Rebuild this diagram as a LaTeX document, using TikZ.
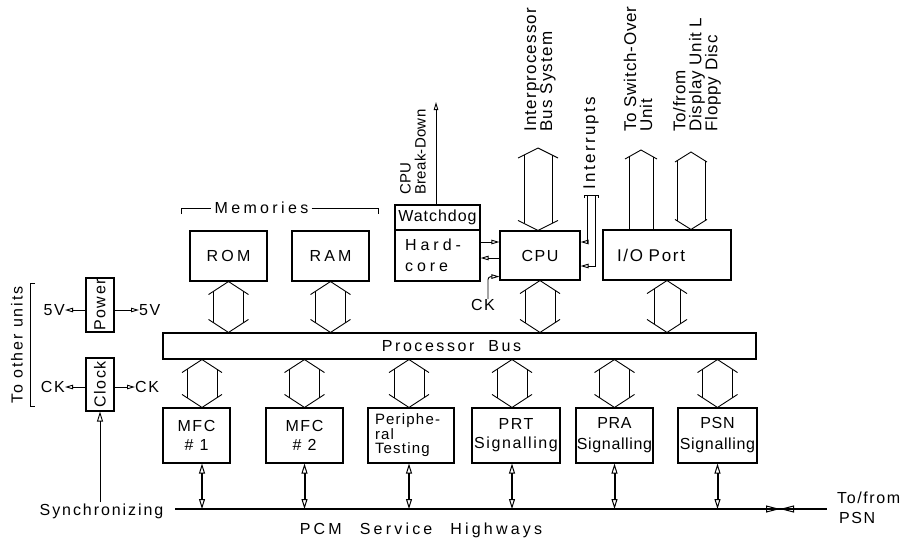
\documentclass[tikz,border=0pt]{standalone}
\usepackage{fontspec}
\setmainfont{Liberation Sans}
\usetikzlibrary{arrows.meta,calc}
\newcommand\fsz[2]{\fontsize{#1}{#2}\selectfont}
\newcommand\lsp[1]{\addfontfeatures{LetterSpace=#1}}
% double hollow arrow: top tip, bottom tip, half head width, half shaft width, head length
\newcommand\bigdbl[5]{%
  \pgfmathsetmacro\bdy{#5*#4/#3}%
  \draw[bigarr] ($#1+(-#3,#5)$) -- #1 -- ($#1+(#3,#5)$);
  \draw[bigarr] ($#2+(-#3,-#5)$) -- #2 -- ($#2+(#3,-#5)$);
  \draw[bigarr] ($#1+(-#4,\bdy)$) -- ($#2+(-#4,-\bdy)$);
  \draw[bigarr] ($#1+(#4,\bdy)$) -- ($#2+(#4,-\bdy)$);
}
% single hollow arrow pointing up: top tip, bottom point
\newcommand\bigsgl[5]{%
  \pgfmathsetmacro\bdy{#5*#4/#3}%
  \draw[bigarr] ($#1+(-#3,#5)$) -- #1 -- ($#1+(#3,#5)$);
  \draw[bigarr] ($#1+(-#4,\bdy)$) -- ($#2+(-#4,0)$);
  \draw[bigarr] ($#1+(#4,\bdy)$) -- ($#2+(#4,0)$);
}
\begin{document}
\begin{tikzpicture}[x=1pt,y=-1pt,
  box/.style={draw, line width=1.1pt, inner sep=0pt, font=\fsz{16}{19}\lsp{10}},
  lbl/.style={inner sep=1pt, font=\fsz{16}{19}\lsp{10}},
  rlbl/.style={inner sep=0pt, rotate=90, anchor=west, align=left, font=\fsz{17}{16}\lsp{5}},
  wire/.style={line width=0.9pt},
  bigarr/.style={line width=0.9pt},
  sarr/.style={wire, -{Triangle[open,length=8pt,width=4.5pt]}},
  thk/.style={line width=2pt, {Triangle[open,length=10pt,width=6pt,line width=1pt]}-{Triangle[open,length=10pt,width=6pt,line width=1pt]}},
  xhead/.style={wire, -{Triangle[open,length=14pt,width=7pt,line width=1pt]}}
]
\useasboundingbox (0,0) rectangle (916,539);

% ---------- top row ----------
\node[box, minimum width=77, minimum height=50, font=\fsz{16}{19}\lsp{20}] (rom) at (228.5,256) {ROM};
\node[box, minimum width=77, minimum height=50, font=\fsz{16}{19}\lsp{20}] (ram) at (330.5,256) {RAM};
\node[box, minimum width=85, minimum height=25, font=\fsz{16}{19}\lsp{6}] (watchdog) at (437.5,217.5) {Watchdog};
\node[box, minimum width=85, minimum height=51, text width=65, align=left, font=\fsz{16}{21}\lsp{25}] (hardcore) at (437.5,255.5) {Hard-\\core};
\node[box, minimum width=80, minimum height=49] (cpu) at (540,255.5) {CPU};
\node[box, minimum width=128, minimum height=50, text width=100, align=left, font=\fsz{17}{19}\lsp{10}] (io) at (667,255) {I/O Port};

\node[lbl, inner sep=3pt, font=\fsz{16}{19}\lsp{21}] (mem) at (261.5,208) {Memories};
\coordinate (memL) at (181,214);
\coordinate (memR) at (378,214);
\draw[wire] (memL) |- (mem.west);
\draw[wire] (mem.east) -| (memR);

% ---------- processor bus ----------
\node[box, minimum width=593, minimum height=26, font=\fsz{16}{19}\lsp{16}] (bus) at (459.5,346) {Processor\hspace{14pt}Bus\hspace*{16pt}};

% ---------- bottom row ----------
\node[box, minimum width=67, minimum height=55, align=center] (mfc1) at (196.5,435.5) {MFC\\\# 1};
\node[box, minimum width=77, minimum height=55, align=center] (mfc2) at (304.5,435.5) {MFC\\\# 2};
\node[box, minimum width=86, minimum height=55, text width=72, align=left, font=\fsz{15}{14.5}\lsp{8}] (per) at (411,435.5) {Periphe-\\ral\\Testing};
\node[box, minimum width=88, minimum height=55, align=center] (prt) at (516,435.5) {PRT\\Signalling};
\node[box, minimum width=77, minimum height=55, align=center, font=\fsz{16}{21}\lsp{4}] (pra) at (614.5,435.5) {PRA\\Signalling};
\node[box, minimum width=79, minimum height=55, align=center, font=\fsz{16}{21}\lsp{4}] (psn) at (717.5,435.5) {PSN\\Signalling};

% ---------- power / clock ----------
\node[box, minimum width=28, minimum height=54] (power) at (100,305) {\rotatebox{90}{Power}};
\node[box, minimum width=28, minimum height=53] (clock) at (100,384.5) {\rotatebox{90}{Clock}};
\node[lbl, anchor=east, inner sep=0pt] (v5l) at (65,310) {5V};
\node[lbl, anchor=west, inner sep=0pt] (v5r) at (139,310) {5V};
\node[lbl, anchor=east, inner sep=0pt] (ckl) at (65,387) {CK};
\node[lbl, anchor=west, inner sep=0pt] (ckr) at (135,387) {CK};
\draw[sarr] (v5l -| power.west) -- (v5l.east);
\draw[sarr] (v5r -| power.east) -- (v5r.west);
\draw[sarr] (ckl -| clock.west) -- (ckl.east);
\draw[sarr] (ckr -| clock.east) -- (ckr.west);
\node[lbl, rotate=90, font=\fsz{16}{19}\lsp{12}] (other) at (17,345) {To other units};
\coordinate (brT) at (35,283);
\coordinate (brB) at (35,406);
\draw[wire] (brT) -- ++(-5,0) |- (brB);
\node[lbl, font=\fsz{16}{19}\lsp{12}] (sync) at (101.5,511) {Synchronizing};
\draw[wire, -{Triangle[open,length=10pt,width=6pt]}] (sync.north -| clock.south) -- (clock.south);

% ---------- top arrows ----------
\bigdbl{(rom.south)}{(rom.south |- bus.north)}{20}{15}{13}
\bigdbl{(ram.south)}{(ram.south |- bus.north)}{20}{15}{13}
\bigdbl{(cpu.south)}{(cpu.south |- bus.north)}{20}{15}{13}
\bigdbl{(io.south)}{(io.south |- bus.north)}{20}{13}{13}

% ---------- bottom arrows ----------
\coordinate (a1) at ([xshift=5.5pt]mfc1.north);
\coordinate (a2) at (mfc2.north);
\coordinate (a3) at ([xshift=-2pt]per.north);
\coordinate (a4) at ([xshift=-4pt]prt.north);
\coordinate (a5) at (pra.north);
\coordinate (a6) at (psn.north);
\foreach \a in {a1,a2,a3,a4,a5,a6}{
  \bigdbl{(\a |- bus.south)}{(\a)}{20}{15}{13}
}

% ---------- highway ----------
\coordinate (hwL) at (175,509);
\coordinate (hwR) at (827,509);
\draw[line width=2.5pt] (hwL) -- (hwR);
\foreach \a in {a1,a2,a3,a4,a5,a6}{
  \draw[thk] (\a |- mfc1.south) -- (\a |- hwL);
}
\coordinate (x1) at (762,509);
\coordinate (xm) at (780,509);
\coordinate (x2) at (798,509);
\draw[xhead] (x1) -- (xm);
\draw[xhead] (x2) -- (xm);
\node[lbl, anchor=west, align=left, font=\fsz{16}{20}\lsp{10}] (psnt) at (836,508) {To/from\\\hspace*{2pt}PSN};
\node[lbl, font=\fsz{16}{19}\lsp{20}] (pcm) at (421,530) {PCM\hspace{18pt}Service\hspace{18pt}Highways};

% ---------- CPU surroundings ----------
\draw[sarr] ([yshift=13.5pt]hardcore.east) -- ([yshift=13.5pt]hardcore.east -| cpu.west);
\draw[sarr] ([yshift=-2.5pt]cpu.west) -- ([yshift=-2.5pt]cpu.west -| hardcore.east);
\node[lbl, inner sep=0pt] (ckc) at (483,305) {CK};
\draw[sarr, rounded corners=3pt] ([xshift=5pt]ckc.north) |- ([yshift=4pt]cpu.south west);

\coordinate (brk) at (436,102);
\draw[sarr] (watchdog.north -| brk) -- (brk);
\node[rlbl, font=\fsz{15}{15}\lsp{2}] (brkt) at (413,195) {CPU\\Break-Down};

\coordinate (int1) at (587,195);
\coordinate (int2) at (595,195);
\draw[sarr] (int1) |- ([yshift=13.5pt]cpu.east);
\draw[sarr] (int2) |- ([yshift=-10.5pt]cpu.east);
\draw[wire] ([xshift=-3pt,yshift=-3pt]int1) -- ([xshift=-3pt]int1) -- ([xshift=3pt]int2) -- ([xshift=3pt,yshift=-3pt]int2);
\node[rlbl, font=\fsz{17}{16}\lsp{14}] (intt) at (591,190) {Interrupts};

\coordinate (ipb) at (538,148);
\bigdbl{(ipb)}{(ipb |- cpu.north)}{20}{14}{10}
\node[rlbl, font=\fsz{17}{16}\lsp{7}] (ipt) at (540,132) {Interprocessor\\Bus System};

\coordinate (swo) at (641,150);
\bigsgl{(swo)}{(swo |- io.north)}{16}{12}{9}
\node[rlbl] (swot) at (638,132) {To Switch-Over\\Unit};

\coordinate (dsp) at (691,152);
\bigdbl{(dsp)}{(dsp |- io.north)}{16}{14}{10}
\node[rlbl] (dspt) at (697,132) {To/from\\Display Unit L\\Floppy Disc};
\end{tikzpicture}
\end{document}
